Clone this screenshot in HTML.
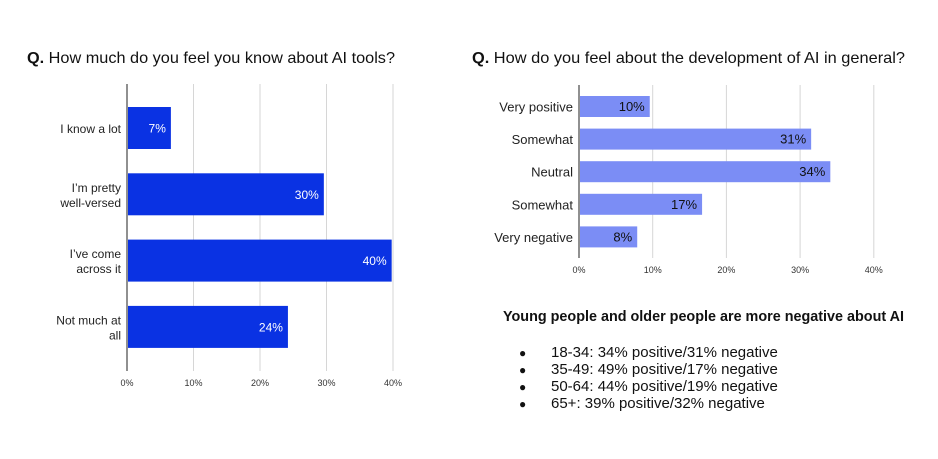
<!DOCTYPE html>
<html><head><meta charset="utf-8"><style>
html,body{margin:0;padding:0;background:#fff;width:938px;height:459px;overflow:hidden}
svg{display:block;font-family:"Liberation Sans",sans-serif}
</style></head><body>
<svg id="s" width="938" height="459" viewBox="0 0 938 459">
<text x="27" y="63" font-size="16" fill="#111" textLength="368" lengthAdjust="spacingAndGlyphs"><tspan font-weight="bold">Q.</tspan> How much do you feel you know about AI tools?</text>
<text x="472" y="63" font-size="16" fill="#111" textLength="433" lengthAdjust="spacingAndGlyphs"><tspan font-weight="bold">Q.</tspan> How do you feel about the development of AI in general?</text>
<g id="left"></g>
<g id="right"></g>
<text x="503" y="321" font-size="15" font-weight="bold" fill="#111" textLength="401" lengthAdjust="spacingAndGlyphs">Young people and older people are more negative about AI</text>
<g font-size="15" fill="#111">
<text x="519" y="357"><tspan font-size="12">●</tspan><tspan x="551">18-34: 34% positive/31% negative</tspan></text>
<text x="519" y="374"><tspan font-size="12">●</tspan><tspan x="551">35-49: 49% positive/17% negative</tspan></text>
<text x="519" y="391"><tspan font-size="12">●</tspan><tspan x="551">50-64: 44% positive/19% negative</tspan></text>
<text x="519" y="408"><tspan font-size="12">●</tspan><tspan x="551">65+: 39% positive/32% negative</tspan></text>
</g>
</svg>
<script>
const leftCategories=[["I know a lot"],["I’m pretty","well-versed"],["I’ve come","across it"],["Not much at","all"]];
const leftValues=[6.6,29.6,39.8,24.2];
const leftLabels=["7%","30%","40%","24%"];
const rightCategories=["Very positive","Somewhat","Neutral","Somewhat","Very negative"];
const rightValues=[9.6,31.5,34.1,16.7,7.9];
const rightLabels=["10%","31%","34%","17%","8%"];
const ticks=[0,10,20,30,40];
const tickLabels=["0%","10%","20%","30%","40%"];
const NS="http://www.w3.org/2000/svg";
function mk(p,t,a){const e=document.createElementNS(NS,t);for(const k in a)e.setAttribute(k,a[k]);p.appendChild(e);return e;}
function draw(g,o){
  const x=v=>o.x0+v*o.ppu;
  const y=i=>o.top+i*o.step;
  ticks.forEach((t,i)=>{
    const l=mk(g,'line',{x1:x(t),x2:x(t),y1:o.axTop,y2:o.axBot,stroke:i?'#d6d6d6':'#555','stroke-width':i?1:1.3});
    
    
    const tl=mk(g,'text',{x:x(t),y:o.tickY,'font-size':9,fill:'#333','text-anchor':'middle'});
    tl.textContent=tickLabels[i];
    
    
  });
  o.vals.forEach((v,i)=>{
    const r=mk(g,'rect',{x:x(0)+1,y:y(i),width:x(v)-x(0)-1,height:o.bh,fill:o.color});
    
    
    const vl=mk(g,'text',{x:x(v)-o.lpad,y:y(i)+o.bh/2+4.5,'font-size':o.vfs,fill:o.vcol,'text-anchor':'end'});
    vl.textContent=o.labels[i];
    
    
    const lines=Array.isArray(o.cats[i])?o.cats[i]:[o.cats[i]];
    lines.forEach((s,j)=>{
      const c=mk(g,'text',{x:x(0)-6,y:y(i)+o.bh/2+5+(j-(lines.length-1)/2)*15,'font-size':o.cfs,fill:'#222','text-anchor':'end'});
      c.textContent=s;
      
      
    });
  });
}
draw(document.getElementById('left'),{x0:127,ppu:6.65,top:107,step:66.3,bh:42,axTop:84,axBot:371,tickY:386,cats:leftCategories,vals:leftValues,labels:leftLabels,color:'#0a32e3',vcol:'#fff',vfs:12,cfs:12,lpad:5});
draw(document.getElementById('right'),{x0:579,ppu:7.37,top:96,step:32.6,bh:21,axTop:85,axBot:258,tickY:273,cats:rightCategories,vals:rightValues,labels:rightLabels,color:'#7b8df5',vcol:'#111',vfs:13,cfs:13,lpad:5});
</script>
</body></html>
